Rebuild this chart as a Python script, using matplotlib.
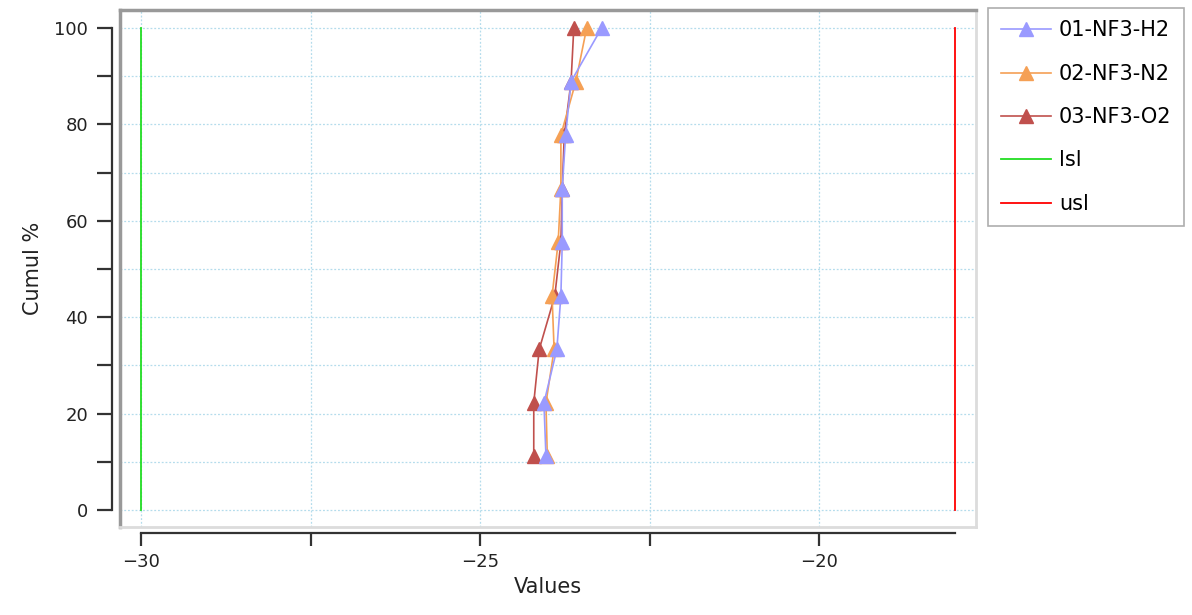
import numpy as np
import matplotlib.pyplot as plt
from matplotlib.ticker import FixedLocator

# Cumulative percentages (9 points)
cumul = [11.1, 22.2, 33.3, 44.4, 55.6, 66.7, 77.8, 88.9, 100.0]

# Measured values per series
h2 = [-24.03, -24.06, -23.87, -23.81, -23.79, -23.79, -23.74, -23.66, -23.21]
n2 = [-24.01, -24.03, -23.91, -23.94, -23.85, -23.81, -23.81, -23.59, -23.43]
o2 = [-24.21, -24.21, -24.13, -23.90, -23.81, -23.79, -23.76, -23.66, -23.62]

series_names = ['01-NF3-H2', '02-NF3-N2', '03-NF3-O2']
series_colors = ['#9a9aff', '#f5a055', '#c0504d']

lsl = -30.0
usl = -18.0

W, H = 1192, 615
fig = plt.figure(figsize=(W / 100, H / 100), dpi=100)
fig.patch.set_facecolor('white')

# panel in pixel coordinates
left, right, top, bottom = 120, 976, 10, 527
pos = [left / W, 1 - bottom / H, (right - left) / W, (bottom - top) / H]

xmin = -30 - 21 / 68
xmax = -18 + 21 / 68
ymin = -17 / 4.82
ymax = 100 + 18 / 4.82

ax = fig.add_axes(pos)
ax.set_xlim(xmin, xmax)
ax.set_ylim(ymin, ymax)

# grid
for gx in [-30, -27.5, -25, -22.5, -20]:
    ax.axvline(gx, color='#b4dcec', lw=0.9, ls=(0, (1.5, 1.5)), zorder=0)
for gy in np.arange(0, 101, 10):
    ax.axhline(gy, color='#b4dcec', lw=0.9, ls=(0, (1.5, 1.5)), zorder=0)

ax.set_xticks([])
ax.set_yticks([])
ax.spines['top'].set_color('#999999')
ax.spines['left'].set_color('#999999')
ax.spines['top'].set_linewidth(2.5)
ax.spines['left'].set_linewidth(2.5)
ax.spines['right'].set_color('#dcdcdc')
ax.spines['bottom'].set_color('#dcdcdc')
ax.spines['right'].set_linewidth(2)
ax.spines['bottom'].set_linewidth(2)

handles = []
for i, (vals, name, col) in enumerate(zip([h2, n2, o2], series_names, series_colors)):
    h, = ax.plot(vals, cumul, color=col, lw=1.2, marker='^', markersize=10,
                 markeredgecolor=col, label=name, zorder=5 - i)
    handles.append(h)

hl, = ax.plot([lsl, lsl], [0, 100], color='#22dd22', lw=1.3, label='lsl')
hu, = ax.plot([usl, usl], [0, 100], color='#ff0000', lw=1.3, label='usl')
handles += [hl, hu]

# detached axes
ax2 = fig.add_axes(pos)
ax2.set_xlim(xmin, xmax)
ax2.set_ylim(ymin, ymax)
ax2.patch.set_visible(False)
ax2.spines['top'].set_visible(False)
ax2.spines['right'].set_visible(False)
ax2.spines['left'].set_position(('outward', 6))
ax2.spines['bottom'].set_position(('outward', 4))
ax2.spines['left'].set_bounds(0, 100)
ax2.spines['bottom'].set_bounds(-30, -18)
for s in ['left', 'bottom']:
    ax2.spines[s].set_color('#333333')
    ax2.spines[s].set_linewidth(1.6)
ax2.yaxis.set_major_locator(FixedLocator([0, 20, 40, 60, 80, 100]))
ax2.yaxis.set_minor_locator(FixedLocator([10, 30, 50, 70, 90]))
ax2.xaxis.set_major_locator(FixedLocator([-30, -25, -20]))
ax2.xaxis.set_minor_locator(FixedLocator([-27.5, -22.5]))
ax2.tick_params(axis='both', which='both', color='#333333', width=1.6,
                labelsize=13, labelcolor='#222222')
ax2.tick_params(axis='y', which='both', length=11, pad=6)
ax2.tick_params(axis='x', which='both', length=9, pad=6)
ax2.set_xticklabels(['\u221230', '\u221225', '\u221220'])
ax2.set_xlabel('Values', fontsize=15, color='#222222', labelpad=4)
ax2.set_ylabel('Cumul %', fontsize=15, color='#222222', labelpad=8)

leg = fig.legend(handles=handles, labels=series_names + ['lsl', 'usl'],
                 loc='upper left', bbox_to_anchor=(988 / W, 1 - 8 / H),
                 fontsize=15, frameon=True, fancybox=False,
                 edgecolor='#9a9a9a', handlelength=2.4, handletextpad=0.4,
                 labelspacing=1.12, borderpad=0.6, markerscale=1.0,
                 borderaxespad=0)
leg.get_frame().set_linewidth(1.2)

fig.savefig('out.png', dpi=100, facecolor='white')
